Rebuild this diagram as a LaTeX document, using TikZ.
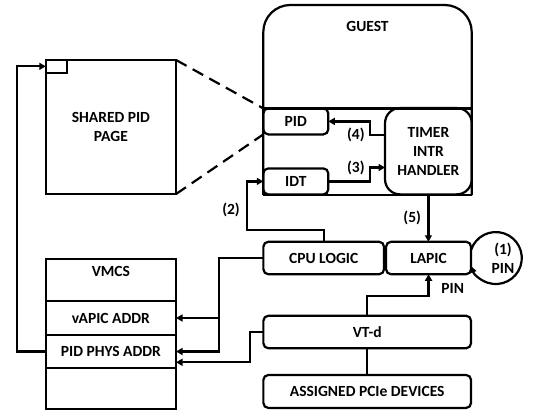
\documentclass[tikz,border=0pt]{standalone}
\usepackage{fontspec}
\setmainfont{Carlito}
\usepackage{tikz}
\usetikzlibrary{positioning,arrows.meta}

\tikzset{
	every node/.style={font=\bfseries\fontsize{15.5}{19}\selectfont, align=center},
	line/.style={line width=2.2pt},
	wire/.style={line, -{Triangle[length=6.5pt,width=7pt]}},
	cell/.style={draw, line width=2.2pt, inner sep=0pt, outer sep=0pt, minimum width=130.3pt},
	block/.style={draw, line width=2.2pt, inner sep=0pt, outer sep=0pt, rounded corners=5pt},
	region/.style={inner sep=0pt, outer sep=0pt},
	zoomline/.style={line, dash pattern=on 12pt off 7pt}
}

\begin{document}
\begin{tikzpicture}[x=1pt, y=1pt]
	\useasboundingbox (0,0) rectangle (534,413);

	%% SHARED PID PAGE
	\node[cell, minimum height=134pt](shared_page) at (110.9,286){SHARED PID\\PAGE};
	\node[cell, minimum width=21.6pt, minimum height=12.7pt, anchor=north west](pid_slot) at (shared_page.north west){};

	%% VMCS
	\node[cell, minimum height=42pt, text height=11pt, text depth=17.6pt](vmcs) at (110.9,133){VMCS};
	\node[cell, minimum height=34pt, below=0pt of vmcs](vapic_addr){vAPIC ADDR};
	\node[cell, minimum height=33pt, below=0pt of vapic_addr](pid_phys){PID PHYS ADDR};
	\node[cell, minimum height=41pt, below=0pt of pid_phys](vmcs_spare){};

	%% GUEST
	\node[region, minimum width=208.4pt, minimum height=190pt](guest) at (367.5,313){};
	\node[below=13pt of guest.north](guest_title){GUEST};
	\node[block, minimum width=65pt, minimum height=26pt](pid_box) at (295.8,291.6){PID};
	\node[block, minimum width=65pt, minimum height=26pt](idt_box) at (295.8,231.6){IDT};
	\node[block, rounded corners=15pt, minimum width=86.7pt, minimum height=86.3pt](timer_handler) at (428.4,261.8){TIMER\\INTR\\HANDLER};

	\draw[line, rounded corners=27pt] (guest.south west) -- (guest.north west) -- (guest.north east) -- (guest.south east);
	\draw[line] (guest.south west) -- (guest.south east);
	\draw[line] (guest.west |- pid_box.north) -- (guest.east |- pid_box.north);

	%% HARDWARE
	\node[block, minimum width=120.7pt, minimum height=32.5pt](cpu_logic) at (323.7,155){CPU LOGIC};
	\node[block, minimum width=85pt, minimum height=32.5pt, right=2pt of cpu_logic](lapic){LAPIC};
	\node[block, minimum width=207.7pt, minimum height=32.5pt](vt_d) at (367.2,81){VT-d};
	\node[block, minimum width=207.7pt, minimum height=33pt, below=26.7pt of vt_d](pcie_devices){ASSIGNED PCIe DEVICES};
	\node(pin_loop) at (503,155){(1)\\PIN};

	%% EDGES
	\draw[zoomline] (shared_page.north east) -- (pid_box.north west);
	\draw[zoomline] (shared_page.south east) -- (pid_box.south west);

	\draw[wire] (pid_phys.west) -- ++(-29,0) |- (pid_slot.west);

	\draw[wire] ([yshift=16.2pt]timer_handler.west) -- ++(-15,0) node[left=1pt]{(4)} |- (pid_box.east);
	\draw[wire] (idt_box.east) -- ++(41.7,0) |- ([yshift=-16.3pt]timer_handler.west) node[pos=0.5, left=1pt]{(3)};
	\draw[wire] (cpu_logic.north) -- ++(0,11.5) -| ([xshift=-16.6pt]idt_box.west) node[pos=0.707, left=2.5pt]{(2)} -- (idt_box.west);
	\draw[wire] (timer_handler.south) -- (timer_handler.south |- lapic.north) node[midway, left=3pt]{(5)};

	\draw[wire] (vt_d.north) -- ++(0,19.7) -| (lapic.south) node[pos=0.677, right=8.5pt]{PIN};
	\draw[line] (vt_d.south) -- (pcie_devices.north);
	\draw[wire] ([yshift=8pt]lapic.east) arc[start angle=162, end angle=-162, radius=26];

	\draw[wire] (cpu_logic.west) -- ++(-44.3,0) |- (vapic_addr.east);
	\draw[wire] (cpu_logic.west) -- ++(-44.3,0) |- (pid_phys.east);
	\draw[wire] (vt_d.west) -- ++(-13.3,0) |- ([yshift=-10.8pt]pid_phys.east);

\end{tikzpicture}
\end{document}
